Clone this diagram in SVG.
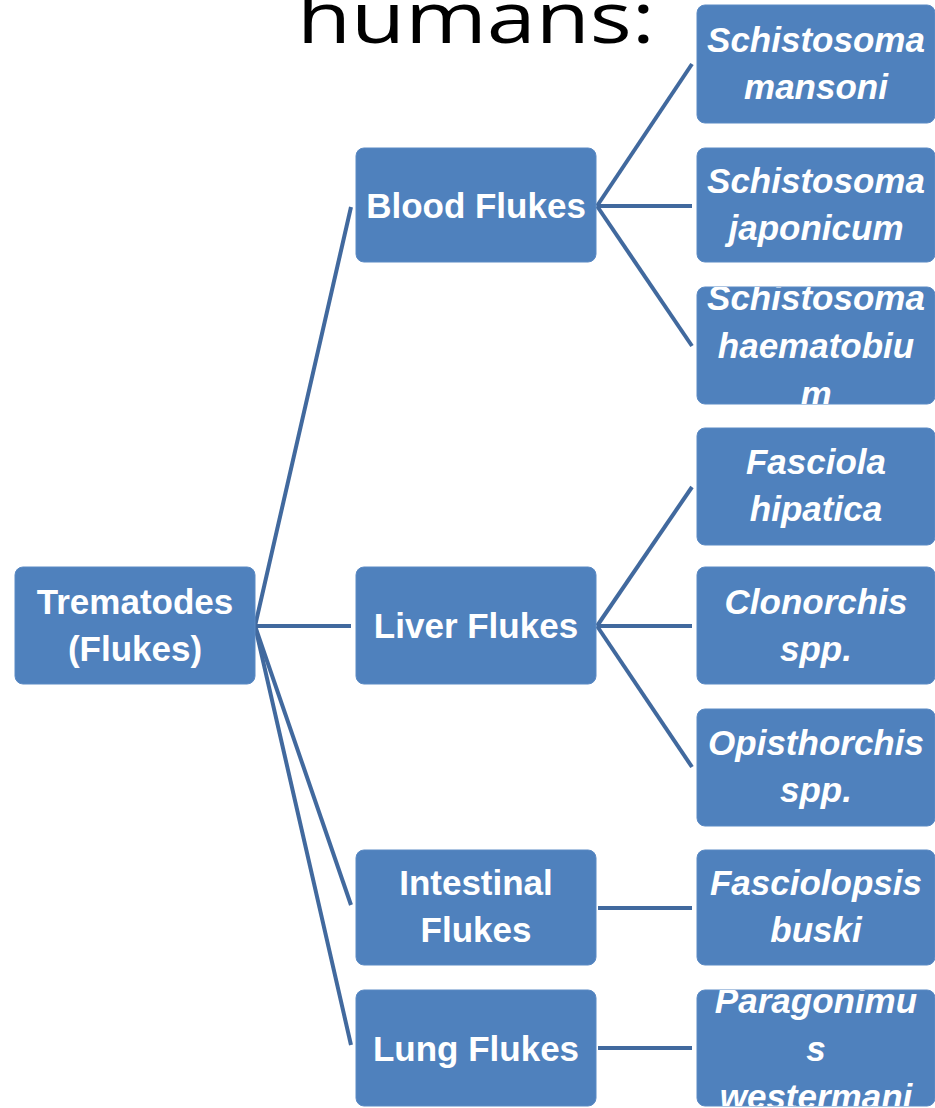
<svg xmlns="http://www.w3.org/2000/svg" width="935" height="1108" viewBox="0 0 935 1108">
<style>
.box{fill:#4F81BD;stroke:#5B8AC4;stroke-width:1}
.t{font-family:"Liberation Sans",Arial,sans-serif;font-weight:bold;font-size:35px;fill:#fff;text-anchor:middle}
.i{font-style:italic}
.c{stroke:#41699E;stroke-width:4;fill:none}
</style>
<defs>
<clipPath id="clipH"><rect x="697" y="287" width="238" height="117" rx="8"/></clipPath>
<clipPath id="clipP"><rect x="697" y="990" width="238" height="116" rx="8"/></clipPath>
</defs>
<text x="297" y="43" font-family="'Open Sans',sans-serif" font-size="71" fill="#000" textLength="358" lengthAdjust="spacingAndGlyphs">humans:</text>
<g id="connectors">
<line class="c" x1="255" y1="626" x2="351" y2="207"/>
<line class="c" x1="255" y1="626" x2="351" y2="626"/>
<line class="c" x1="255" y1="626" x2="351" y2="905"/>
<line class="c" x1="255" y1="626" x2="351" y2="1045"/>
<line class="c" x1="597" y1="206" x2="692" y2="64"/>
<line class="c" x1="597" y1="206" x2="692" y2="206"/>
<line class="c" x1="597" y1="206" x2="692" y2="346"/>
<line class="c" x1="597" y1="626" x2="692" y2="487"/>
<line class="c" x1="597" y1="626" x2="692" y2="626"/>
<line class="c" x1="597" y1="626" x2="692" y2="767"/>
<line class="c" x1="598" y1="908" x2="692" y2="908"/>
<line class="c" x1="598" y1="1048" x2="692" y2="1048"/>
</g>
<g id="trematodes"><rect class="box" x="15" y="567" width="240" height="117" rx="8"/><text class="t" x="135" y="614">Trematodes</text><text class="t" x="135" y="661">(Flukes)</text></g>
<g id="blood"><rect class="box" x="356" y="148" width="240" height="114" rx="8"/><text class="t" x="476" y="218">Blood Flukes</text></g>
<g id="liver"><rect class="box" x="356" y="567" width="240" height="117" rx="8"/><text class="t" x="476" y="638">Liver Flukes</text></g>
<g id="intestinal"><rect class="box" x="356" y="850" width="240" height="115" rx="8"/><text class="t" x="476" y="895">Intestinal</text><text class="t" x="476" y="942">Flukes</text></g>
<g id="lung"><rect class="box" x="356" y="990" width="240" height="116" rx="8"/><text class="t" x="476" y="1061">Lung Flukes</text></g>
<g id="mansoni"><rect class="box" x="697" y="5" width="238" height="118" rx="8"/><text class="t i" x="816" y="52">Schistosoma</text><text class="t i" x="816" y="99">mansoni</text></g>
<g id="japonicum"><rect class="box" x="697" y="148" width="238" height="114" rx="8"/><text class="t i" x="816" y="193">Schistosoma</text><text class="t i" x="816" y="240">japonicum</text></g>
<g id="haematobium"><rect class="box" x="697" y="287" width="238" height="117" rx="8"/><g clip-path="url(#clipH)"><text class="t i" x="816" y="310">Schistosoma</text><text class="t i" x="816" y="358">haematobiu</text><text class="t i" x="816" y="406">m</text></g></g>
<g id="fasciola"><rect class="box" x="697" y="428" width="238" height="117" rx="8"/><text class="t i" x="816" y="474">Fasciola</text><text class="t i" x="816" y="521">hipatica</text></g>
<g id="clonorchis"><rect class="box" x="697" y="567" width="238" height="117" rx="8"/><text class="t i" x="816" y="614">Clonorchis</text><text class="t i" x="816" y="661">spp.</text></g>
<g id="opisthorchis"><rect class="box" x="697" y="709" width="238" height="117" rx="8"/><text class="t i" x="816" y="755">Opisthorchis</text><text class="t i" x="816" y="802">spp.</text></g>
<g id="fasciolopsis"><rect class="box" x="697" y="850" width="238" height="115" rx="8"/><text class="t i" x="816" y="895">Fasciolopsis</text><text class="t i" x="816" y="942">buski</text></g>
<g id="paragonimus"><rect class="box" x="697" y="990" width="238" height="116" rx="8"/><g clip-path="url(#clipP)"><text class="t i" x="816" y="1013">Paragonimu</text><text class="t i" x="816" y="1061">s</text><text class="t i" x="816" y="1109">westermani</text></g></g>
</svg>
